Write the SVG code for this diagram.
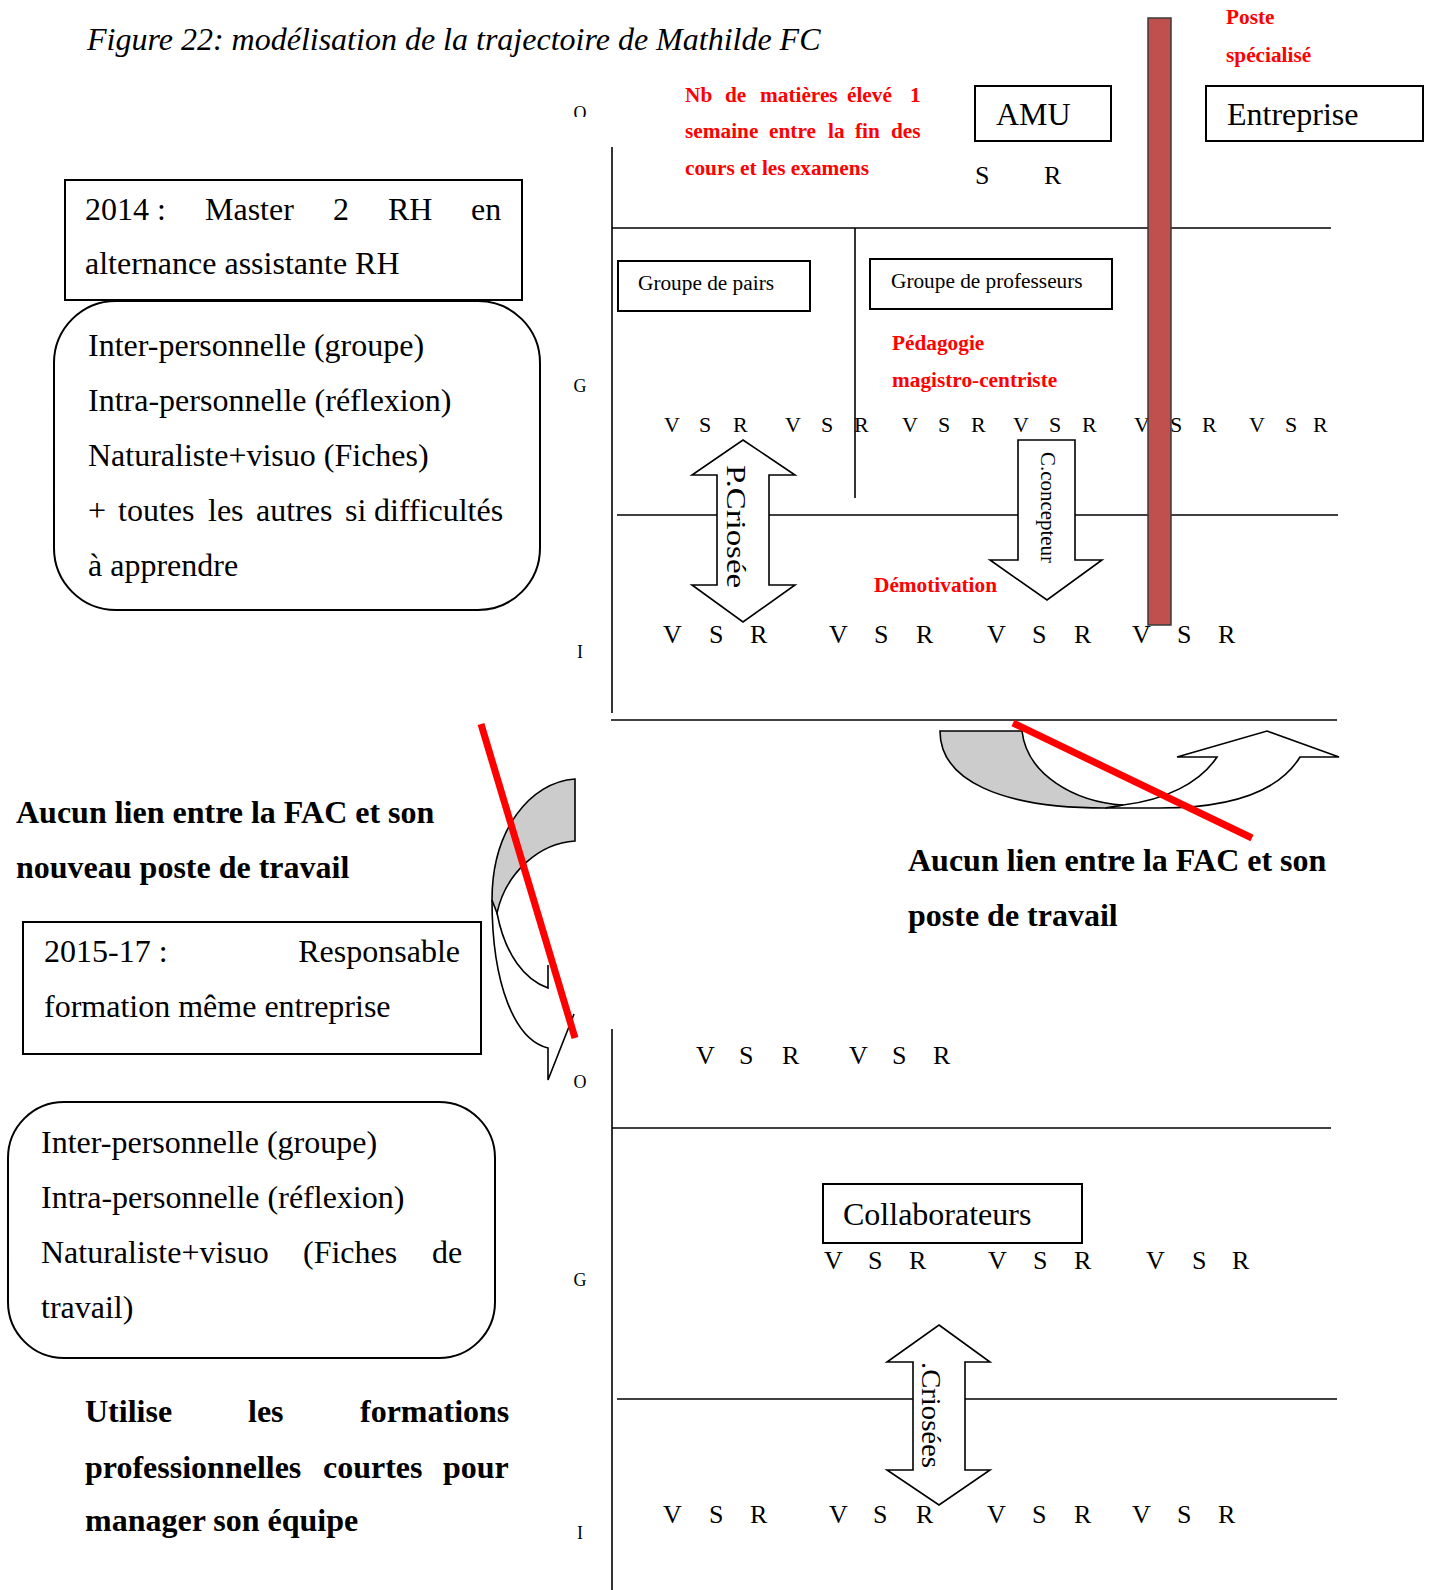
<svg xmlns="http://www.w3.org/2000/svg" width="1431" height="1590" viewBox="0 0 1431 1590">
<defs>
<style>
text{font-family:"Liberation Serif","Times New Roman",serif;fill:#000}
.b{font-weight:bold}
.it{font-style:italic}
.red{fill:#ff0000;font-weight:bold;font-size:21.3px}
.f32{font-size:32px}
.f21{font-size:21.3px}
.vsr{font-size:22px}
.vsr2{font-size:26px}
.lbl{font-size:18px;text-anchor:middle}
.ln{stroke:#000;stroke-width:1.6;fill:none}
.box{fill:#fff;stroke:#000;stroke-width:2}
.arr{fill:#fff;stroke:#000;stroke-width:1.6;stroke-linejoin:miter}
.gray{fill:#cccccc;stroke:#000;stroke-width:1.6}
.open{fill:none;stroke:#000;stroke-width:1.6}
.cross{stroke:#ff0000;stroke-width:7;fill:none}
</style>
<clipPath id="clipO"><rect x="560" y="95" width="40" height="22"/></clipPath>
</defs>
<rect width="1431" height="1590" fill="#fff"/>

<text id="title" class="it f32" x="87" y="50">Figure 22: modélisation de la trajectoire de Mathilde FC</text>

<!-- axis labels -->
<g id="axis-labels">
<text class="lbl" x="580" y="118.5" clip-path="url(#clipO)">O</text>
<text class="lbl" x="580" y="392">G</text>
<text class="lbl" x="580" y="658">I</text>
<text class="lbl" x="580" y="1088">O</text>
<text class="lbl" x="580" y="1286">G</text>
<text class="lbl" x="580" y="1539">I</text>
</g>

<g id="connectors">
<path class="ln" d="M612,147 V713"/>
<path class="ln" d="M612,228 H1331"/>
<path class="ln" d="M855,228 V498"/>
<path class="ln" d="M617,515 H1338"/>
<path class="ln" d="M611,720 H1337"/>
<path class="ln" d="M612,1029 V1590"/>
<path class="ln" d="M612,1128 H1331"/>
<path class="ln" d="M617,1399 H1337"/>
</g>

<!-- top left boxes -->
<g id="node-2014">
<rect class="box" x="65" y="180" width="457" height="120"/>
<text class="f32" y="220"><tspan x="85">2014 :</tspan><tspan x="205">Master</tspan><tspan x="333">2</tspan><tspan x="388">RH</tspan><tspan x="471">en</tspan></text>
<text class="f32" x="85" y="274">alternance assistante RH</text>
</g>

<g id="node-intelligences-1">
<rect class="box" x="54" y="301" width="486" height="309" rx="62" ry="62"/>
<text class="f32" x="88" y="356">Inter-personnelle (groupe)</text>
<text class="f32" x="88" y="411">Intra-personnelle (réflexion)</text>
<text class="f32" x="88" y="466">Naturaliste+visuo (Fiches)</text>
<text class="f32" y="521"><tspan x="88">+</tspan><tspan x="118">toutes</tspan><tspan x="208">les</tspan><tspan x="256">autres</tspan><tspan x="345">si</tspan><tspan x="374">difficultés</tspan></text>
<text class="f32" x="88" y="576">à apprendre</text>
</g>

<!-- top section content -->
<g id="node-nb-matieres">
<text class="red" y="102"><tspan x="685">Nb</tspan><tspan x="725">de</tspan><tspan x="760">matières</tspan><tspan x="847">élevé</tspan><tspan x="910">1</tspan></text>
<text class="red" y="138"><tspan x="685">semaine</tspan><tspan x="769">entre</tspan><tspan x="828">la</tspan><tspan x="855">fin</tspan><tspan x="891">des</tspan></text>
<text class="red" x="685" y="175">cours et les examens</text>
</g>

<g id="node-amu">
<rect class="box" x="975" y="86" width="136" height="55"/>
<text class="f32" x="996" y="125">AMU</text>
</g>
<text class="vsr2" x="975 1044" y="184">SR</text>

<g id="node-entreprise">
<rect class="box" x="1206" y="86" width="217" height="55"/>
<text class="f32" x="1227" y="125">Entreprise</text>
</g>

<g id="node-poste">
<text class="red" x="1226" y="24">Poste</text>
<text class="red" x="1226" y="62">spécialisé</text>
</g>

<g id="node-pairs">
<rect class="box" x="618" y="261" width="192" height="50"/>
<text class="f21" x="638" y="290">Groupe de pairs</text>
</g>

<g id="node-professeurs">
<rect class="box" x="870" y="259" width="242" height="50"/>
<text class="f21" x="891" y="288">Groupe de professeurs</text>
</g>

<g id="node-pedagogie">
<text class="red" x="892" y="350">Pédagogie</text>
<text class="red" x="892" y="387">magistro-centriste</text>
</g>

<text id="vsr-top-g" class="vsr" x="664 699 733 785 821 854 902 938 971 1013 1049 1082 1134 1170 1202 1249 1285 1313" y="432">VSRVSRVSRVSRVSRVSR</text>

<g id="node-bar">
<rect x="1148" y="18" width="23" height="607" fill="#c0504d" stroke="#3a3a3a" stroke-width="1.5"/>
</g>

<text id="vsr-top-i" class="vsr2" x="663 709 750 829 874 916 987 1032 1074 1132 1177 1218" y="643">VSRVSRVSRVSR</text>

<g id="node-pcriosee">
<path class="arr" d="M743,440 L795,475 L769,475 L769,585 L795,585 L743,622 L692,585 L717,585 L717,475 L692,475 Z"/>
<text transform="translate(727,465) rotate(90)" font-size="27" textLength="123" lengthAdjust="spacingAndGlyphs">P.Criosée</text>
</g>

<g id="node-cconcepteur">
<path class="arr" d="M1018,440 L1075,440 L1075,560 L1102,560 L1047,600 L990,560 L1018,560 Z"/>
<text transform="translate(1041,452) rotate(90)" font-size="21" textLength="111" lengthAdjust="spacingAndGlyphs">C.concepteur</text>
</g>

<text id="node-demotivation" class="red" x="874" y="592">Démotivation</text>

<!-- curved arrow right -->
<g id="node-curved-up-arrow">
<path class="arr" d="M1123,805 C1165,800 1200,783 1217,757 L1177,757 L1267,731 L1339,757 L1300,757 C1278,793 1230,808 1160,808 L1105,808 Z"/>
<path class="gray" d="M940,731 L1022,731 C1027,775 1075,802 1123,805 L1105,808 C1000,808 940,780 940,731 Z"/>
</g>
<line class="cross" x1="1013" y1="723" x2="1252" y2="838"/>

<g id="node-aucun-lien-right">
<text class="b f32" x="908" y="871">Aucun lien entre la FAC et son</text>
<text class="b f32" x="908" y="926">poste de travail</text>
</g>

<g id="node-aucun-lien-left">
<text class="b f32" x="16" y="823">Aucun lien entre la FAC et son</text>
<text class="b f32" x="16" y="878">nouveau poste de travail</text>
</g>

<!-- curved arrow left -->
<g id="node-curved-right-arrow">
<path d="M575,779 L575,841 C540,843 506,872 497,913 C505,955 525,980 548,988 L548,965 L578,1008 L548,1080 L548,1048 C515,1040 492,985 492,900 C492,830 530,782 575,779 Z" fill="#fff" stroke="none"/>
<path class="gray" d="M575,779 C530,782 492,830 492,900 L497,913 C506,872 540,843 575,841 Z"/>
<path class="open" d="M497,913 C505,955 525,980 548,988 L548,965"/>
<path class="open" d="M492,900 C492,985 515,1040 548,1048 L548,1080 L574,1014"/>
</g>
<line class="cross" x1="481" y1="724" x2="575" y2="1038"/>

<g id="node-2015">
<rect class="box" x="23" y="922" width="458" height="132"/>
<text class="f32" x="44" y="962">2015-17 :</text>
<text class="f32" x="460" y="962" text-anchor="end">Responsable</text>
<text class="f32" x="44" y="1017">formation même entreprise</text>
</g>

<g id="node-intelligences-2">
<rect class="box" x="8" y="1102" width="487" height="256" rx="56" ry="56"/>
<text class="f32" x="41" y="1153">Inter-personnelle (groupe)</text>
<text class="f32" x="41" y="1208">Intra-personnelle (réflexion)</text>
<text class="f32" y="1263"><tspan x="41">Naturaliste+visuo</tspan><tspan x="303">(Fiches</tspan><tspan x="432">de</tspan></text>
<text class="f32" x="41" y="1318">travail)</text>
</g>

<g id="node-utilise">
<text class="b f32" y="1422"><tspan x="85">Utilise</tspan><tspan x="248">les</tspan><tspan x="360">formations</tspan></text>
<text class="b f32" y="1478"><tspan x="85">professionnelles</tspan><tspan x="323">courtes</tspan><tspan x="443">pour</tspan></text>
<text class="b f32" x="85" y="1531">manager son équipe</text>
</g>

<!-- lower section -->
<text id="vsr-low-o" class="vsr2" x="696 739 782 849 892 933" y="1064">VSRVSR</text>

<g id="node-collaborateurs">
<rect class="box" x="823" y="1184" width="259" height="59"/>
<text class="f32" x="843" y="1225">Collaborateurs</text>
</g>
<text id="vsr-low-g" class="vsr2" x="824 868 909 988 1033 1074 1146 1192 1232" y="1269">VSRVSRVSR</text>

<g id="node-criosees">
<path class="arr" d="M939,1325 L990,1362 L965,1362 L965,1470 L990,1470 L939,1505 L887,1470 L913,1470 L913,1362 L887,1362 Z"/>
<text transform="translate(922,1362) rotate(90)" font-size="27" textLength="106" lengthAdjust="spacingAndGlyphs">.Criosées</text>
</g>

<text id="vsr-low-i" class="vsr2" x="663 709 750 829 873 916 987 1032 1074 1132 1177 1218" y="1523">VSRVSRVSRVSR</text>
</svg>
